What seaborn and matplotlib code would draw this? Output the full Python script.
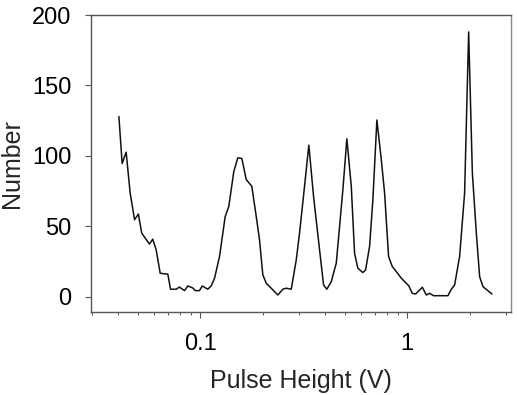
# Pulse height spectrum (number of events vs pulse height, log x axis)

import pandas as pd
import seaborn as sns
import matplotlib.pyplot as plt
from matplotlib.ticker import FixedLocator, FixedFormatter, NullFormatter

# Valores
pulse_height = [0.0405, 0.0420, 0.0439, 0.0459, 0.0482, 0.0503, 0.0522, 0.0569, 0.0590,
                0.0613, 0.0641, 0.0698, 0.0719, 0.0766, 0.0794, 0.0840, 0.0871, 0.0921,
                0.0946, 0.0992, 0.1023, 0.1088, 0.1130, 0.1173, 0.1240, 0.1320, 0.1375,
                0.1453, 0.1519, 0.1589, 0.1668, 0.1775, 0.1865, 0.1934, 0.2006, 0.2084,
                0.2203, 0.2370, 0.2506, 0.2603, 0.2752, 0.2910, 0.3018, 0.3190, 0.3346,
                0.3526, 0.3770, 0.3942, 0.4089, 0.4295, 0.4540, 0.4885, 0.5107, 0.5364,
                0.5564, 0.5771, 0.6101, 0.6289, 0.6574, 0.6820, 0.7131, 0.7488, 0.7768,
                0.8121, 0.8461, 0.8849, 0.9355, 0.9890, 1.018, 1.057, 1.097, 1.182,
                1.235, 1.281, 1.340, 1.571, 1.632, 1.692, 1.789, 1.891, 1.978, 2.061,
                2.154, 2.235, 2.319, 2.424, 2.563]
counts = [128, 94.7, 102.7, 73.8, 54.8, 58.8, 45.3, 37.5, 41,
          33.4, 16.8, 16.2, 5.5, 5.5, 7, 4.5, 7.8, 6.4,
          4.5, 4.5, 7.8, 5.5, 7.8, 13.3, 28.7, 57, 64.3,
          89, 98.7, 98.2, 83.3, 78.5, 57, 40.6, 15.7, 9.7,
          6.2, 1.4, 5.5, 6.2, 5.5, 26.3, 45.3, 78.5, 107.7,
          71.4, 33.5, 8.5, 5.5, 10.9, 24, 76, 112.2, 78.5,
          31, 20.4, 17.3, 19.2, 35.8, 69, 125.5, 97.5, 73.8,
          28.7, 21.6, 18, 13.3, 9.7, 7.8, 2.6, 2.1, 6.9,
          1.4, 2.6, 0.9, 0.9, 5.5, 8.5, 28.7, 73.8, 188, 88,
          45.3, 14.4, 7.3, 5, 2.1]

x_ticks = [0.1, 1]
x_tick_labels = ['0.1', '1']
y_ticks = [0, 50, 100, 150, 200]

df = pd.DataFrame({'Pulse Height (V)': pulse_height, 'Number': counts})

sns.set_style("ticks")
plt.rcParams['font.family'] = ['Liberation Sans', 'DejaVu Sans']

fig = plt.figure(figsize=(5.17, 3.95), dpi=100)
ax = fig.add_axes([0.176, 0.210, 0.812, 0.752])

sns.lineplot(data=df, x='Pulse Height (V)', y='Number', color='#111111',
             linewidth=1.1, ax=ax)

ax.set_xscale('log')
ax.set_xlim(0.0297, 3.16)
ax.set_ylim(-10.7, 200)

ax.xaxis.set_major_locator(FixedLocator(x_ticks))
ax.xaxis.set_major_formatter(FixedFormatter(x_tick_labels))
ax.xaxis.set_minor_formatter(NullFormatter())
ax.set_yticks(y_ticks)

ax.tick_params(axis='both', which='major', labelsize=17, length=4, width=0.8,
               colors='#555555', labelcolor='black')
ax.tick_params(axis='y', which='major', pad=10)
ax.tick_params(axis='x', which='major', pad=11)
ax.tick_params(axis='x', which='minor', length=2.5, width=0.7, colors='#555555')

ax.set_xlabel('Pulse Height (V)', fontsize=18, labelpad=10)
ax.set_ylabel('Number', fontsize=18, labelpad=6)

# marco completo en gris
for side in ['top', 'bottom', 'left', 'right']:
    ax.spines[side].set_visible(True)
    ax.spines[side].set_color('#555555')
    ax.spines[side].set_linewidth(1.0)
ax.spines['right'].set_color('#888888')

fig.savefig('out.png', dpi=100)
